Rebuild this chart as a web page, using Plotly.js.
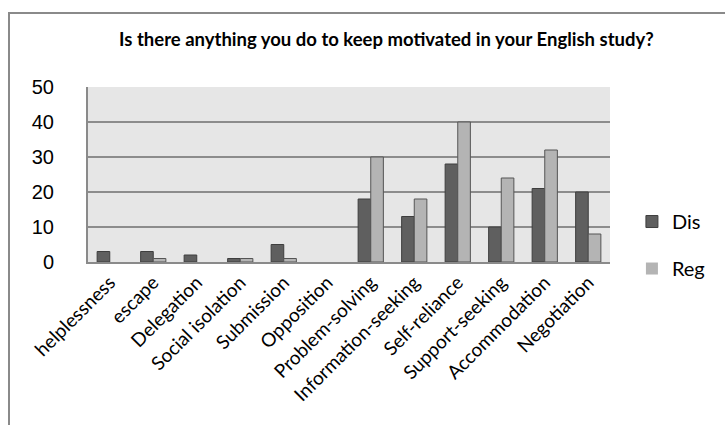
<!DOCTYPE html>
<html>
<head>
<meta charset="utf-8">
<script src="https://cdn.plot.ly/plotly-3.0.1.min.js"></script>
<style>
html,body{margin:0;padding:0;background:#fff;}
#wrap{position:relative;width:725px;height:425px;overflow:hidden;}
#frame{position:absolute;left:8px;top:12px;width:800px;height:500px;border-left:2px solid #8a8a8a;border-top:2px solid #8a8a8a;pointer-events:none;}
#chart{position:absolute;left:0;top:0;width:725px;height:425px;}
</style>
</head>
<body>
<div id="wrap">
<div id="chart"></div>
<div id="frame"></div>
</div>
<script>
const categories = ["helplessness","escape","Delegation","Social isolation","Submission","Opposition","Problem-solving","Information-seeking","Self-reliance","Support-seeking","Accommodation","Negotiation"];
const disValues = [3,3,2,1,5,0,18,13,28,10,21,20];
const regValues = [0,1,0,1,1,0,30,18,40,24,32,8];
const yTicks = [0,10,20,30,40,50];
const chartTitle = "Is there anything you do to keep motivated in your English study?";

const traces = [
  {type:"bar", name:"Dis", x:categories, y:disValues, legendgroup:"a",
   marker:{color:"#5f5f5f", line:{color:"#3e3e3e", width:disValues.map(v => v === 0 ? 0 : 1)}}},
  {type:"bar", name:"Reg", x:categories, y:regValues, legendgroup:"b",
   marker:{color:"#b4b4b4", line:{color:"#555555", width:regValues.map(v => v === 0 ? 0 : 1)}}}
];

const layout = {
  width:725, height:425,
  margin:{l:88, r:115, t:87, b:163, pad:0},
  paper_bgcolor:"rgba(0,0,0,0)",
  plot_bgcolor:"#e6e6e6",
  barmode:"group",
  bargap:0.42,
  bargroupgap:0,
  font:{family:"Lato, 'Open Sans', sans-serif", color:"#000"},
  title:{text:"<b>"+chartTitle+"</b>", x:0.533, xanchor:"center", y:0.908, yanchor:"middle",
         font:{family:"Lato, sans-serif", size:18.5, color:"#000"}},
  xaxis:{type:"category", tickangle:-45, tickfont:{family:"Lato, sans-serif", size:19, color:"#000"},
         showgrid:false, showline:true, linecolor:"#8a8a8a", linewidth:2, ticks:"", fixedrange:true},
  yaxis:{range:[0,50], tickvals:yTicks, ticktext:yTicks.map(String),
         tickfont:{family:"'Liberation Sans', Arial, sans-serif", size:20, color:"#000"},
         showgrid:true, gridcolor:"#8c8c8c", gridwidth:2, zeroline:false,
         showline:true, linecolor:"#8a8a8a", linewidth:2, ticks:"", ticklen:0,
         ticklabelstandoff:28, fixedrange:true},
  legend:{x:1.042, xanchor:"left", xref:"paper", y:0.097, yanchor:"middle", traceorder:"grouped", tracegroupgap:18,
          font:{family:"Lato, sans-serif", size:20, color:"#000"}, bgcolor:"rgba(0,0,0,0)",
          itemwidth:30}
};

Plotly.newPlot("chart", traces, layout, {staticPlot:true, displayModeBar:false});
</script>
</body>
</html>
